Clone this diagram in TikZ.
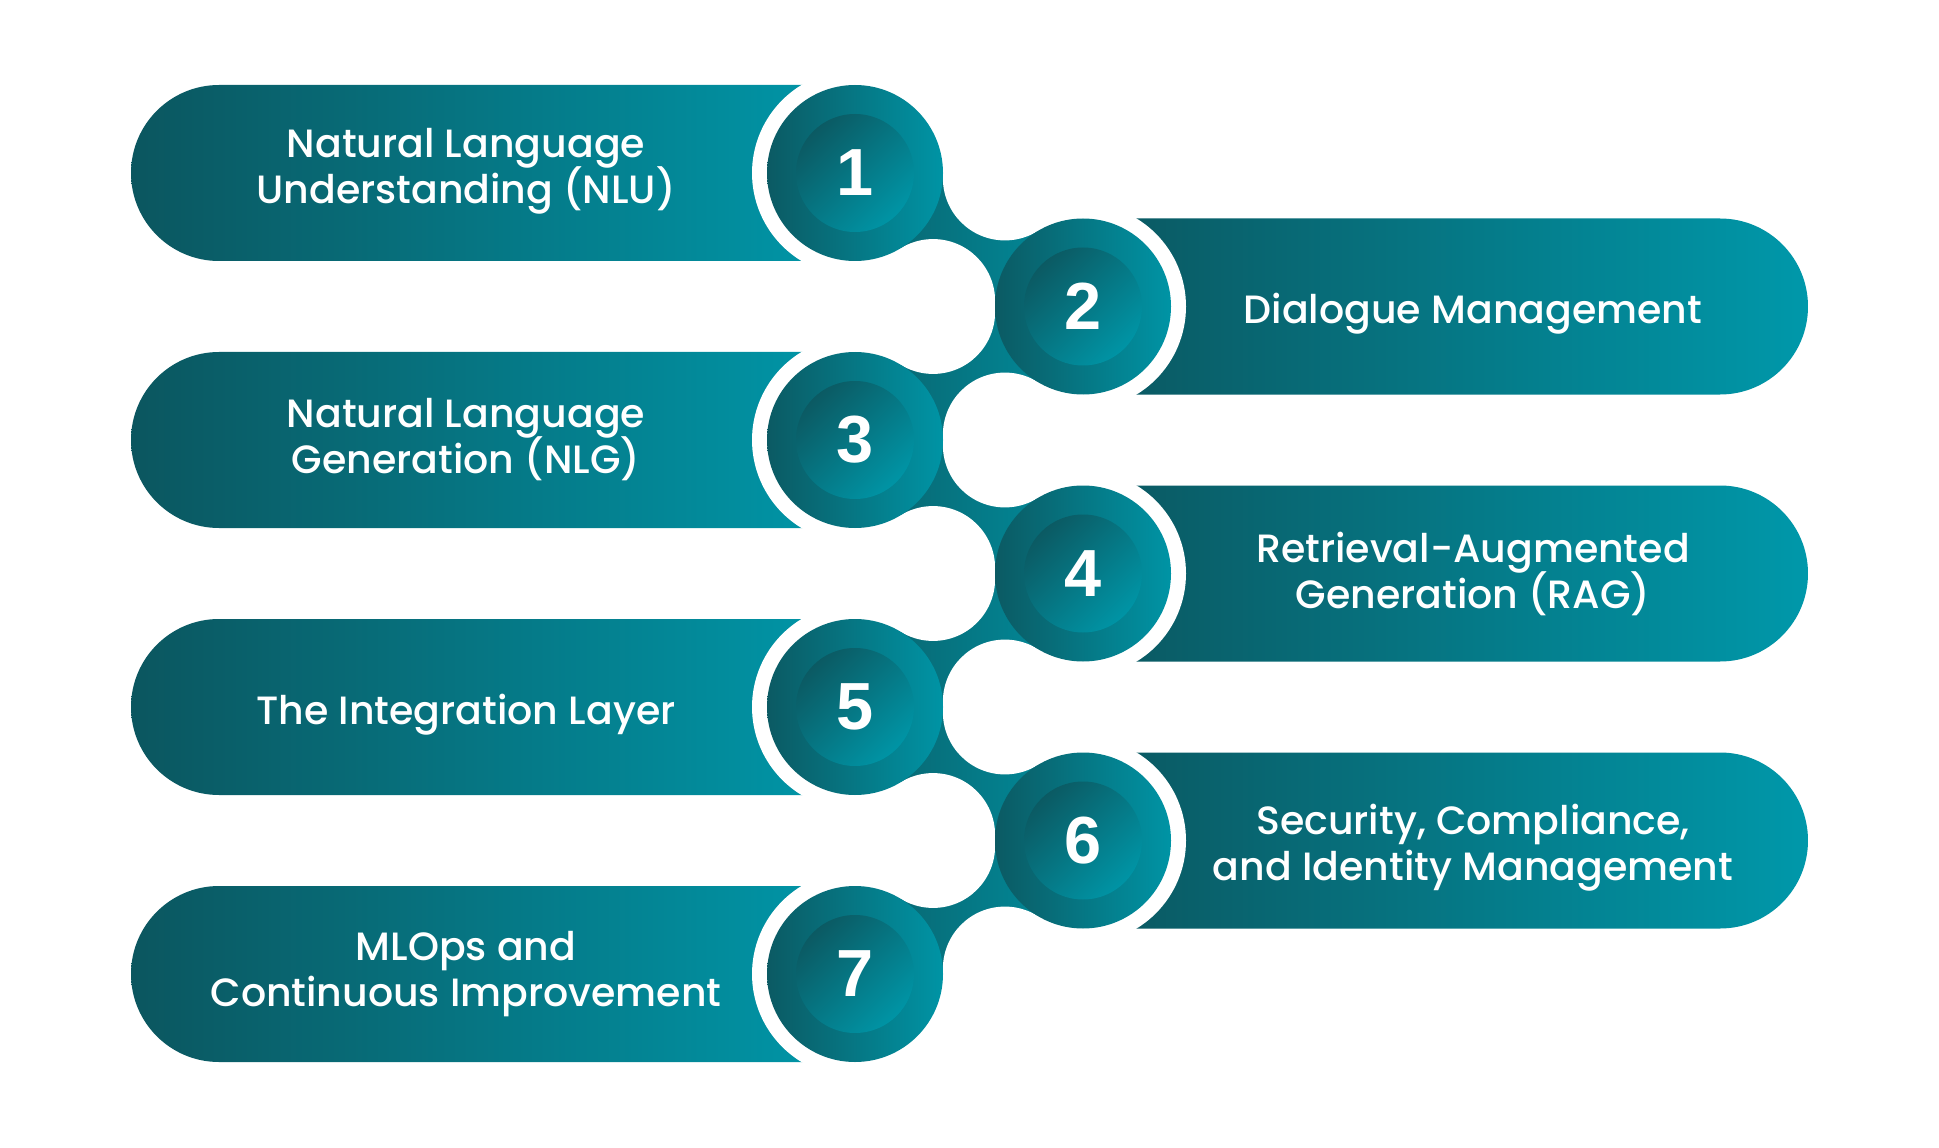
\documentclass[tikz,border=0pt]{standalone}
\usepackage{fontspec}
\IfFontExistsTF{Poppins Medium}{\setmainfont{Poppins Medium}}{\setmainfont{Poppins}}
\newfontfamily\numfont{Liberation Sans}
\usetikzlibrary{calc}
\definecolor{pdark}{RGB}{11,86,95}
\definecolor{plight}{RGB}{0,152,170}
\definecolor{cdark}{RGB}{11,90,99}
\definecolor{clight}{RGB}{0,148,165}
\definecolor{bdark}{RGB}{10,98,108}
\definecolor{blight}{RGB}{0,142,158}
\tikzset{
  txt/.style={text=white, align=center, inner sep=0pt,
     font=\fontsize{29.6}{34.5}\selectfont},
  outerdisc/.style={circle, minimum size=132pt, inner sep=0pt, left color=cdark, right color=clight},
  innerdisc/.style={circle, minimum size=88.5pt, inner sep=0pt, top color=cdark, bottom color=clight, shading angle=45,
     text=white, font=\numfont\bfseries\fontsize{50}{50}\selectfont},
}
\begin{document}
\lineskiplimit=-100pt
\begin{tikzpicture}[x=0.75pt,y=0.75pt]
\fill[white] (0,0) rectangle (1939,-1148);
\useasboundingbox (0,0) rectangle (1939,-1148);
% circle centres
\foreach \i/\x in {1/855,2/1083,3/855,4/1083,5/855,6/1083,7/855}
  \coordinate (c\i) at (\x, {-(173+133.5*(\i-1))});
% pills
\foreach \i in {1,3,5,7}
  \shade[left color=pdark, right color=plight]
    ($(c\i)+(0,88)$) -- ($(c\i)+(-636,88)$) arc[start angle=90,end angle=270,radius=88]
    -- ($(c\i)+(0,-88)$) -- cycle;
\foreach \i in {2,4,6}
  \shade[left color=pdark, right color=plight]
    ($(c\i)+(0,88)$) -- ($(c\i)+(637,88)$) arc[start angle=90,end angle=-90,radius=88]
    -- ($(c\i)+(0,-88)$) -- cycle;
% white rings
\foreach \i in {1,...,7}
  \fill[white] (c\i) circle[radius=103];
% connector bands
\foreach \i/\j in {1/2,2/3,3/4,4/5,5/6,6/7}{
  \coordinate (m\i) at ($(c\i)!0.5!(c\j)$);
  \coordinate (A\i) at ($(m\i)!53.3pt!90:(c\j)$);
  \coordinate (B\i) at ($(m\i)!53.3pt!-90:(c\j)$);
  \shade[left color=bdark, right color=blight] (c\i) -- (A\i) -- (c\j) -- (B\i) -- cycle;
}
\foreach \i in {1,...,6}
  \fill[white] (A\i) circle[radius=62] (B\i) circle[radius=62];
% discs and numbers
\foreach \i in {1,...,7}{
  \node[outerdisc] (o\i) at (c\i) {};
  \node[innerdisc] (n\i) at (c\i) {\i};
}
% texts
\node[txt] (t1) at (466,-171) {Natural Language\\Understanding (NLU)};
\node[txt] (t2) at (1473,-314) {Dialogue Management};
\node[txt] (t3) at (466,-440) {Natural Language\\Generation (NLG)};
\node[txt] (t4) at (1473,-574) {Retrieval-Augmented\\Generation (RAG)};
\node[txt] (t5) at (466,-714.5) {The Integration Layer};
\node[txt] (t6) at (1473,-848) {Security, Compliance,\\and Identity Management};
\node[txt] (t7) at (466,-974) {MLOps and\\Continuous Improvement};
\end{tikzpicture}
\end{document}
